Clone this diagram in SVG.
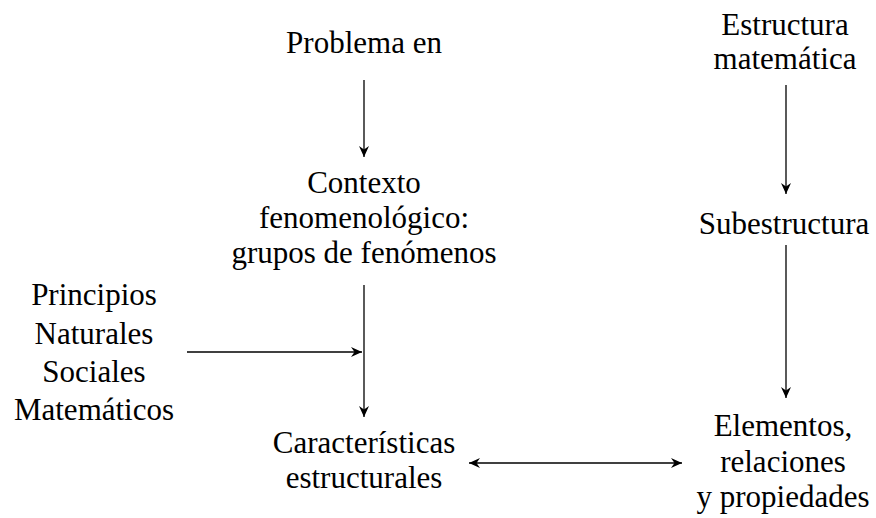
<svg xmlns="http://www.w3.org/2000/svg" width="876" height="518" viewBox="0 0 876 518">
<style>
text{font-family:"Liberation Serif","Times New Roman",serif;font-size:31px;fill:#000;text-anchor:middle}
.c{stroke:#000;stroke-width:1.3;fill:none}
</style>
<defs>
<marker id="ah" viewBox="-12 -6 13 12" refX="0" refY="0" markerWidth="13" markerHeight="12" markerUnits="userSpaceOnUse" orient="auto-start-reverse">
<path d="M0,0 L-11,-5 L-7.5,0 L-11,5 Z" fill="#000"/>
</marker>
</defs>
<rect width="876" height="518" fill="#fff"/>
<g id="connectors">
<line class="c" x1="364" y1="80" x2="364" y2="157" marker-end="url(#ah)"/>
<line class="c" x1="187" y1="352" x2="362" y2="352" marker-end="url(#ah)"/>
<line class="c" x1="364" y1="285" x2="364" y2="417" marker-end="url(#ah)"/>
<line class="c" x1="469" y1="463" x2="682" y2="463" marker-start="url(#ah)" marker-end="url(#ah)"/>
<line class="c" x1="786" y1="85" x2="786" y2="194" marker-end="url(#ah)"/>
<line class="c" x1="786" y1="245" x2="786" y2="398" marker-end="url(#ah)"/>
</g>
<g id="problema"><text x="364" y="53">Problema en</text></g>
<g id="contexto">
<text x="364" y="193">Contexto</text>
<text x="364" y="228">fenomenológico:</text>
<text x="364" y="263">grupos de fenómenos</text>
</g>
<g id="principios">
<text x="94" y="305">Principios</text>
<text x="94" y="344">Naturales</text>
<text x="94" y="382">Sociales</text>
<text x="94" y="420">Matemáticos</text>
</g>
<g id="caracteristicas">
<text x="364" y="453">Características</text>
<text x="364" y="488">estructurales</text>
</g>
<g id="estructura">
<text x="785" y="35">Estructura</text>
<text x="785" y="69">matemática</text>
</g>
<g id="subestructura"><text x="784" y="234">Subestructura</text></g>
<g id="elementos">
<text x="783" y="436">Elementos,</text>
<text x="783" y="472">relaciones</text>
<text x="783" y="507">y propiedades</text>
</g>
</svg>
